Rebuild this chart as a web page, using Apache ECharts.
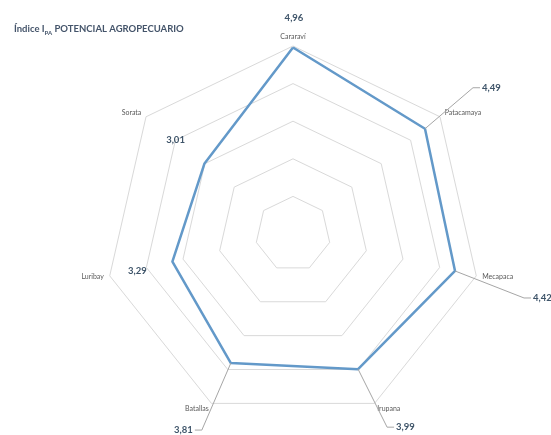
<!DOCTYPE html>
<html>
<head>
<meta charset="utf-8">
<script src="https://cdn.jsdelivr.net/npm/echarts@6/dist/echarts.min.js"></script>
<style>
html,body{margin:0;padding:0;background:#fff;}
#chart{width:551px;height:435px;}
</style>
</head>
<body>
<div id="chart"></div>
<script>
// ---- data ----
const categories = ['Cararaví', 'Patacamaya', 'Mecapaca', 'Irupana', 'Batallas', 'Luribay', 'Sorata'];
const values = [4.96, 4.49, 4.42, 3.99, 3.81, 3.29, 3.01];
const axisMin = 0;
const axisMax = 5;
const axisSplits = 5;
const titleText = 'Índice I{sub|PA} POTENCIAL AGROPECUARIO';

// ---- label placement (style only, relative to each data point) ----
const labelPlacement = [
  { dx: 1,   dy: -30, align: 'center', leader: false },
  { dx: 57,  dy: -41, align: 'left',   leader: true },
  { dx: 78,  dy: 27,  align: 'left',   leader: true },
  { dx: 38,  dy: 58,  align: 'left',   leader: true },
  { dx: -38, dy: 67,  align: 'right',  leader: true },
  { dx: -35, dy: 9,   align: 'center', leader: false },
  { dx: -29, dy: -23, align: 'center', leader: false }
];

const fmt = v => v.toFixed(2).replace('.', ',');

// ECharts places radar indicators counter-clockwise; the reference goes clockwise.
const order = categories.map((_, k) => (categories.length - k) % categories.length);
const indicatorNames = order.map(i => categories[i]);
const radarValues = order.map(i => values[i]);

const chart = echarts.init(document.getElementById('chart'), null, { renderer: 'canvas' });
const FONT = 'Lato, "Open Sans", sans-serif';

chart.setOption({
  animation: false,
  backgroundColor: '#ffffff',
  title: {
    text: titleText,
    left: 9,
    top: 19,
    textStyle: {
      fontFamily: FONT,
      fontSize: 9.5,
      fontWeight: 'bold',
      color: '#44546a',
      rich: {
        sub: { fontFamily: FONT, fontSize: 6, fontWeight: 'bold', color: '#44546a', verticalAlign: 'bottom', padding: [0, 0, -2, 0] }
      }
    }
  },
  radar: {
    center: [293, 234],
    radius: 188,
    startAngle: 90,
    shape: 'polygon',
    splitNumber: axisSplits,
    indicator: indicatorNames.map(n => ({ name: n, min: axisMin, max: axisMax })),
    axisName: { color: '#595959', fontSize: 7, fontFamily: FONT },
    nameGap: 6,
    axisLine: { show: false },
    axisTick: { show: false },
    axisLabel: { show: false },
    splitArea: { show: false },
    splitLine: { lineStyle: { color: '#d9d9d9', width: 1 } }
  },
  series: [{
    type: 'radar',
    symbol: 'none',
    lineStyle: { color: '#6399c9', width: 2.5, join: 'round' },
    data: [{ value: radarValues, name: 'IPA' }]
  }]
});

// value labels with leader lines, anchored on the library's own radar coordinates
const radarCS = chart.getModel().getComponent('radar', 0).coordinateSystem;
const graphics = [];
values.forEach((v, i) => {
  const p = radarCS.dataToPoint(v, order.indexOf(i));
  const lp = labelPlacement[i];
  const lx = p[0] + lp.dx, ly = p[1] + lp.dy;
  graphics.push({
    type: 'text',
    x: lx, y: ly,
    style: {
      text: fmt(v),
      fill: '#3e5469',
      font: 'bold 9.5px ' + FONT,
      textAlign: lp.align,
      textVerticalAlign: 'middle'
    },
    z: 10
  });
  if (lp.leader) {
    const s = lp.align === 'right' ? 1 : -1;
    graphics.push({
      type: 'polyline',
      shape: { points: [[p[0], p[1]], [lx + s * 9, ly], [lx + s * 2, ly]] },
      style: { stroke: '#a6a6a6', lineWidth: 1, fill: null },
      z: 5
    });
  }
});
chart.setOption({ graphic: graphics });
</script>
</body>
</html>
